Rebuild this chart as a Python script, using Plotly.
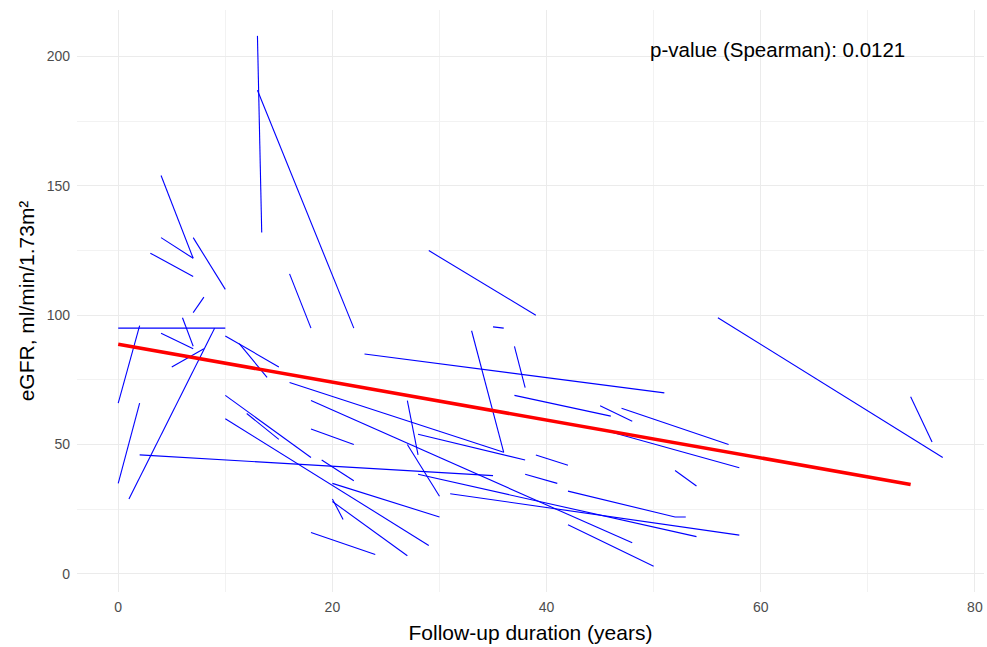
import plotly.graph_objects as go

# Long-format eGFR trajectories: one row per visit
patient = [1, 1, 2, 2, 3, 3, 4, 4, 5, 5, 6, 6, 7, 7, 8, 8, 9, 9, 10, 10,
           11, 11, 12, 12, 13, 13, 14, 14, 15, 15, 16, 16, 17, 17, 18, 18, 19, 19, 20, 20,
           21, 21, 22, 22, 23, 23, 24, 24, 25, 25, 26, 26, 27, 27, 28, 28, 29, 29, 30, 30,
           31, 31, 32, 32, 33, 33, 34, 34, 35, 35, 36, 36, 37, 37, 38, 38, 39, 39, 40, 40, 40,
           41, 41, 42, 42, 43, 43, 44, 44, 45, 45, 46, 46, 47, 47, 48, 48, 49, 49, 50, 50]
follow_up = [13, 13.4, 13, 22, 4, 7, 4, 7, 3, 7, 7, 10, 7, 8, 0, 10, 0, 2, 6, 7,
             4, 7, 5, 8, 1, 9, 0, 2, 2, 35, 10, 15, 11.3, 13.9, 16, 18, 23, 51, 29, 39,
             33, 36, 35, 36, 37, 38, 37, 46, 45, 48, 47, 57, 56, 77, 74, 76, 10, 18, 12, 15,
             10, 29, 16, 36, 18, 48, 18, 22, 27, 28, 27, 30, 28, 38, 45, 58, 52, 54, 42, 52, 53,
             28, 54, 31, 58, 20, 27, 20, 21, 38, 41, 39, 42, 20, 30, 19, 22, 18, 24, 42, 50, 28, 33]
egfr = [208, 132, 187, 95, 154, 122, 130, 122, 124, 115, 130, 110, 101, 107, 95, 95, 66, 96, 99, 88,
        93, 87, 80, 87, 29, 95, 35, 66, 46, 38, 92, 80, 89, 76, 116, 95, 85, 70, 125, 100,
        94, 47, 95.5, 95, 88, 72, 69, 61, 65, 59, 64, 50, 99, 45, 68.5, 51, 69, 45, 62, 52,
        60, 11, 74, 47, 67, 12, 56, 50, 67, 46, 50, 30, 54, 44, 56, 41, 40, 34, 32, 22, 22,
        38.5, 14.4, 31, 15, 28, 7, 29, 21, 38.5, 35, 46, 42, 35, 22, 44, 36, 16, 7.5, 19, 3, 25, 10]

# Linear trend across all visits
trend_x = [0, 74]
trend_intercept = 88.8
trend_slope = -0.733

# p-value label
pvalue_text = "p-value (Spearman): 0.0121"

# Build one trace with gaps between patients
line_x, line_y = [], []
prev = None
for pid, xv, yv in zip(patient, follow_up, egfr):
    if prev is not None and pid != prev:
        line_x.append(None)
        line_y.append(None)
    line_x.append(xv)
    line_y.append(yv)
    prev = pid

trend_y = [trend_intercept + trend_slope * v for v in trend_x]

fig = go.Figure()
fig.add_trace(go.Scatter(
    x=line_x, y=line_y, mode="lines",
    line=dict(color="#0000FF", width=1.1),
    connectgaps=False, hoverinfo="skip", showlegend=False,
))
fig.add_trace(go.Scatter(
    x=trend_x, y=trend_y, mode="lines",
    line=dict(color="#FF0000", width=3.6),
    hoverinfo="skip", showlegend=False,
))

fig.add_annotation(
    x=61.6, y=202.7, xref="x", yref="y", text=pvalue_text,
    showarrow=False, xanchor="center", yanchor="middle",
    font=dict(family="Liberation Sans, Arial, sans-serif", size=20.5, color="black"),
)

grid = "#EBEBEB"
fig.update_layout(
    width=987, height=647,
    margin=dict(l=77, r=3, t=10, b=55),
    paper_bgcolor="white", plot_bgcolor="white",
    font=dict(family="Liberation Sans, Arial, sans-serif", color="#4D4D4D", size=14),
    xaxis=dict(
        range=[-3.85, 80.85], tickvals=[0, 20, 40, 60, 80],
        showgrid=True, gridcolor=grid, gridwidth=1.1,
        minor=dict(tickvals=[10, 30, 50, 70], showgrid=True, gridcolor="#F2F2F2", gridwidth=0.6),
        zeroline=False, showline=False, ticks="", ticklabelstandoff=5,
        title=dict(text="Follow-up duration (years)", standoff=11,
                   font=dict(size=21, color="black")),
    ),
    yaxis=dict(
        range=[-7, 218], tickvals=[0, 50, 100, 150, 200],
        showgrid=True, gridcolor=grid, gridwidth=1.1,
        minor=dict(tickvals=[25, 75, 125, 175], showgrid=True, gridcolor="#F2F2F2", gridwidth=0.6),
        zeroline=False, showline=False, ticks="", ticklabelstandoff=6,
        title=dict(text="eGFR, ml/min/1.73m²", standoff=6,
                   font=dict(size=21, color="black")),
    ),
)

fig.write_html("out.html")
